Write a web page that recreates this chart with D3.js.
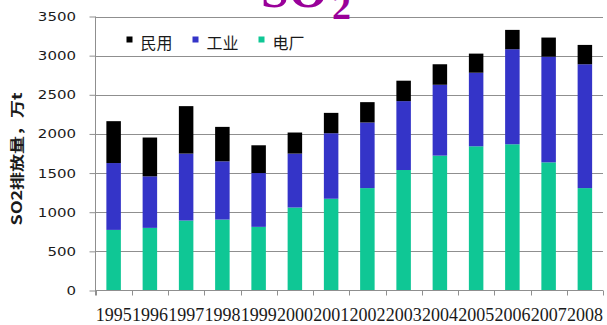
<!DOCTYPE html>
<html>
<head>
<meta charset="utf-8">
<script src="https://cdn.jsdelivr.net/npm/d3@7/dist/d3.min.js"></script>
<style>
  html, body { margin: 0; padding: 0; background: #fff; }
  svg { display: block; }
</style>
</head>
<body>
<svg id="chart" width="607" height="325"></svg>
<script>
// SO2 emissions by source, 10^4 t
const years = ["1995","1996","1997","1998","1999","2000","2001","2002","2003","2004","2005","2006","2007","2008"];
const power       = [774, 800, 894, 906, 813, 1060, 1172, 1308, 1539, 1723, 1842, 1868, 1637, 1308];
const industry    = [854, 658, 855, 744, 687, 689, 837, 838, 880, 905, 940, 1214, 1350, 1582];
const residential = [535, 496, 606, 440, 355, 269, 260, 260, 261, 262, 244, 247, 244, 247];
const yTicks = [0, 500, 1000, 1500, 2000, 2500, 3000, 3500];

const seriesKeys   = ["power", "industry", "residential"];
const seriesNames  = { residential: "民用", industry: "工业", power: "电厂" };
const seriesColors = { residential: "#000000", industry: "#3434c8", power: "#0fc795" };
const legendOrder  = ["residential", "industry", "power"];

const rows = years.map((y, i) => ({
  year: y, power: power[i], industry: industry[i], residential: residential[i]
}));

const svg = d3.select("#chart");
const plotLeft = 95.5, plotRight = 603, plotTop = 16.5, plotBottom = 290.5;

const x = d3.scaleBand().domain(years).range([plotLeft, plotRight])
  .paddingInner(0.6).paddingOuter(0.3);
const y = d3.scaleLinear().domain([0, 3500]).range([plotBottom, plotTop]);

const gridColor = "#8f8f8f";

// horizontal gridlines
svg.append("g").selectAll("line").data(yTicks.filter(d => d > 0)).join("line")
  .attr("x1", plotLeft).attr("x2", plotRight)
  .attr("y1", d => Math.round(y(d)) + 0.5).attr("y2", d => Math.round(y(d)) + 0.5)
  .attr("stroke", gridColor).attr("stroke-width", 1);

// stacked bars
const stacked = d3.stack().keys(seriesKeys)(rows);
svg.append("g").selectAll("g").data(stacked).join("g")
  .attr("fill", s => seriesColors[s.key])
  .selectAll("rect").data(s => s).join("rect")
  .attr("x", d => x(d.data.year))
  .attr("width", x.bandwidth())
  .attr("y", d => y(d[1]))
  .attr("height", d => y(d[0]) - y(d[1]));

// y axis
const yAxis = svg.append("g")
  .attr("transform", `translate(${plotLeft},0)`)
  .call(d3.axisLeft(y).tickValues(yTicks).tickSize(6).tickFormat(d3.format("d")));
yAxis.select(".domain").attr("stroke", gridColor)
  .attr("d", `M0,${plotTop}V${plotBottom + 5}`);
yAxis.selectAll(".tick line").attr("stroke", gridColor);
yAxis.selectAll(".tick text")
  .attr("font-family", "'DejaVu Sans', Verdana, sans-serif")
  .attr("font-size", 12.5)
  .attr("fill", "#1a1a1a")
  .attr("x", -19.5 / 1.2)
  .attr("transform", "scale(1.2,1)");

// x axis: baseline, boundary ticks and year labels
const xg = svg.append("g");
xg.append("line").attr("x1", plotLeft).attr("x2", plotRight)
  .attr("y1", plotBottom).attr("y2", plotBottom).attr("stroke", gridColor);
const bounds = d3.range(years.length + 1).map(i => x.range()[0] + i * x.step());
xg.selectAll(".bt").data(bounds).join("line").attr("class", "bt")
  .attr("x1", d => Math.round(d) + 0.5).attr("x2", d => Math.round(d) + 0.5)
  .attr("y1", plotBottom).attr("y2", plotBottom + 5).attr("stroke", gridColor);
xg.selectAll("text").data(years).join("text")
  .attr("x", d => x(d) + x.bandwidth() / 2)
  .attr("y", 321)
  .attr("text-anchor", "middle")
  .attr("font-family", "'Liberation Serif', 'Times New Roman', serif")
  .attr("font-size", 18)
  .attr("fill", "#1a1a1a")
  .text(d => d);

// y axis title
svg.append("text")
  .attr("transform", "translate(16,159) rotate(-90) scale(1,0.78)")
  .attr("text-anchor", "middle")
  .attr("dominant-baseline", "central")
  .attr("font-family", "'Noto Sans CJK SC', sans-serif")
  .attr("font-weight", "bold")
  .attr("font-size", 18)
  .attr("fill", "#1a1a1a")
  .text("SO2排放量，万t");

// legend
const legendX = [126.5, 192.5, 258.5];
const lg = svg.append("g").selectAll("g").data(legendOrder).join("g")
  .attr("transform", (d, i) => `translate(${legendX[i]},42)`);
lg.append("rect").attr("x", 0).attr("y", -5.5).attr("width", 6).attr("height", 6)
  .attr("fill", d => seriesColors[d]);
lg.append("text").attr("x", 14).attr("y", 0)
  .attr("dominant-baseline", "central")
  .attr("font-family", "'Noto Sans CJK SC', sans-serif")
  .attr("font-size", 16)
  .attr("fill", "#1a1a1a")
  .text(d => seriesNames[d]);

// title
const title = svg.append("g").attr("fill", "#990099")
  .attr("font-family", "'Liberation Serif', 'Times New Roman', serif")
  .attr("font-weight", "bold");
title.append("text").attr("x", 261).attr("y", 7).attr("font-size", 50).text("SO");
title.append("text").attr("x", 332).attr("y", 18.5).attr("font-size", 38).text("2");
</script>
</body>
</html>
